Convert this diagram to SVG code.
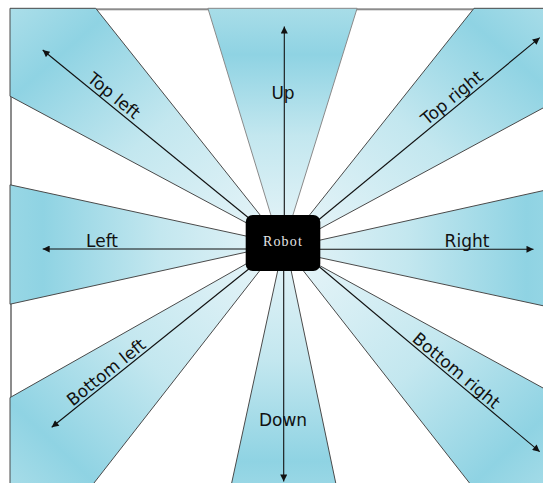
<svg xmlns="http://www.w3.org/2000/svg" width="543" height="483" viewBox="0 0 543 483">
<defs>
<style>
.w{stroke:#4a4a4a;stroke-width:1;stroke-linejoin:round}
.wl{stroke:#8a8a8a;stroke-width:1}
.a{stroke:#111;stroke-width:1.1;fill:none;marker-end:url(#ah)}
.t{font-family:"DejaVu Sans",sans-serif;font-size:17px;fill:#111;text-anchor:middle}
</style>
<marker id="ah" viewBox="0 0 10 10" refX="10" refY="5" markerUnits="userSpaceOnUse" markerWidth="8" markerHeight="7" orient="auto">
<path d="M0,0 L10,5 L0,10 z" fill="#111"/>
</marker>
<linearGradient id="gUp" x1="0" y1="1" x2="0" y2="0"><stop offset="0" stop-color="#e6f4f8"/><stop offset="0.45" stop-color="#c3e7ef"/><stop offset="0.8" stop-color="#8fd3e3"/><stop offset="1" stop-color="#a8dde8"/></linearGradient>
<linearGradient id="gDown" x1="0" y1="0" x2="0" y2="1"><stop offset="0" stop-color="#e6f4f8"/><stop offset="0.45" stop-color="#c3e7ef"/><stop offset="0.85" stop-color="#8fd3e3"/><stop offset="1" stop-color="#a0dae7"/></linearGradient>
<linearGradient id="gLeft" x1="1" y1="0" x2="0" y2="0"><stop offset="0" stop-color="#e6f4f8"/><stop offset="0.45" stop-color="#c3e7ef"/><stop offset="0.88" stop-color="#8fd3e3"/><stop offset="1" stop-color="#98d7e5"/></linearGradient>
<linearGradient id="gRight" x1="0" y1="0" x2="1" y2="0"><stop offset="0" stop-color="#e6f4f8"/><stop offset="0.45" stop-color="#c3e7ef"/><stop offset="0.88" stop-color="#8fd3e3"/><stop offset="1" stop-color="#98d7e5"/></linearGradient>
<linearGradient id="gTL" x1="1" y1="1" x2="0" y2="0"><stop offset="0" stop-color="#e6f4f8"/><stop offset="0.45" stop-color="#c3e7ef"/><stop offset="0.8" stop-color="#8fd3e3"/><stop offset="1" stop-color="#abdee9"/></linearGradient>
<linearGradient id="gTR" x1="0" y1="1" x2="1" y2="0"><stop offset="0" stop-color="#e6f4f8"/><stop offset="0.45" stop-color="#c3e7ef"/><stop offset="0.8" stop-color="#8fd3e3"/><stop offset="1" stop-color="#abdee9"/></linearGradient>
<linearGradient id="gBL" x1="1" y1="0" x2="0" y2="1"><stop offset="0" stop-color="#e6f4f8"/><stop offset="0.45" stop-color="#c3e7ef"/><stop offset="0.8" stop-color="#8fd3e3"/><stop offset="1" stop-color="#abdee9"/></linearGradient>
<linearGradient id="gBR" x1="0" y1="0" x2="1" y2="1"><stop offset="0" stop-color="#e6f4f8"/><stop offset="0.45" stop-color="#c3e7ef"/><stop offset="0.8" stop-color="#8fd3e3"/><stop offset="1" stop-color="#abdee9"/></linearGradient>
</defs>
<rect width="543" height="483" fill="#fff"/>
<rect id="frame" x="11" y="9.3" width="600" height="600" fill="none" stroke="#8c8c8c" stroke-width="2"/>

<g id="up">
<polygon class="wl" fill="url(#gUp)" points="272.1,219 207.9,8.3 357.1,8.3 291.7,219 283,240"/>
</g>
<g id="down">
<polygon class="w" fill="url(#gDown)" points="278.5,267 228,500 339.3,500 290.4,267 284,245"/>
</g>
<g id="left">
<polygon class="w" fill="url(#gLeft)" points="250,236.9 10,184.8 10,304.2 250,251.3 283,244"/>
</g>
<g id="right">
<polygon class="w" fill="url(#gRight)" points="316,241 560,186.9 560,309.4 316,256.8 283,244"/>
</g>
<g id="top-left">
<polygon class="w" fill="url(#gTL)" points="263.3,219 95.7,8.3 10,8.3 10,96.2 250,224.8 270,235"/>
</g>
<g id="top-right">
<polygon class="w" fill="url(#gTR)" points="306.4,219 474,8.3 560,8.3 560,98.8 316,230.8 296,235"/>
</g>
<g id="bottom-left">
<polygon class="w" fill="url(#gBL)" points="250,261.7 10,397.6 10,500 80.7,500 262.6,267 268,255"/>
</g>
<g id="bottom-right">
<polygon class="w" fill="url(#gBR)" points="300.4,267 482.8,500 560,500 560,397.3 316,263.6 300,255"/>
</g>

<g id="connectors">
<path class="a" d="M284.3,220 V26.5"/>
<path class="a" d="M283.7,266 V481.5"/>
<path class="a" d="M250,249 H42.7"/>
<path class="a" d="M316,249.3 H533.5"/>
<path class="a" d="M250,219 L42.7,50"/>
<path class="a" d="M316,222 L539.7,37.7"/>
<path class="a" d="M250,268 L51.7,427.3"/>
<path class="a" d="M316,264 L539.7,451.7"/>
</g>

<g id="labels">
<text class="t" x="283" y="99">Up</text>
<text class="t" x="283" y="426">Down</text>
<text class="t" x="102" y="246.5">Left</text>
<text class="t" x="467" y="246.5">Right</text>
<text class="t" transform="translate(110.2,100.1) rotate(39.3)">Top left</text>
<text class="t" transform="translate(455.6,102.2) rotate(-39.6)">Top right</text>
<text class="t" transform="translate(109.8,376.8) rotate(-38.8)">Bottom left</text>
<text class="t" transform="translate(452.6,375) rotate(39.9)">Bottom right</text>
</g>

<g id="robot">
<rect x="245.7" y="215" width="74.6" height="56" rx="7" fill="#000"/>
<text x="283" y="246" font-family="Liberation Serif, serif" font-size="14" letter-spacing="1.2" fill="#e6e6e6" text-anchor="middle">Robot</text>
</g>
</svg>
